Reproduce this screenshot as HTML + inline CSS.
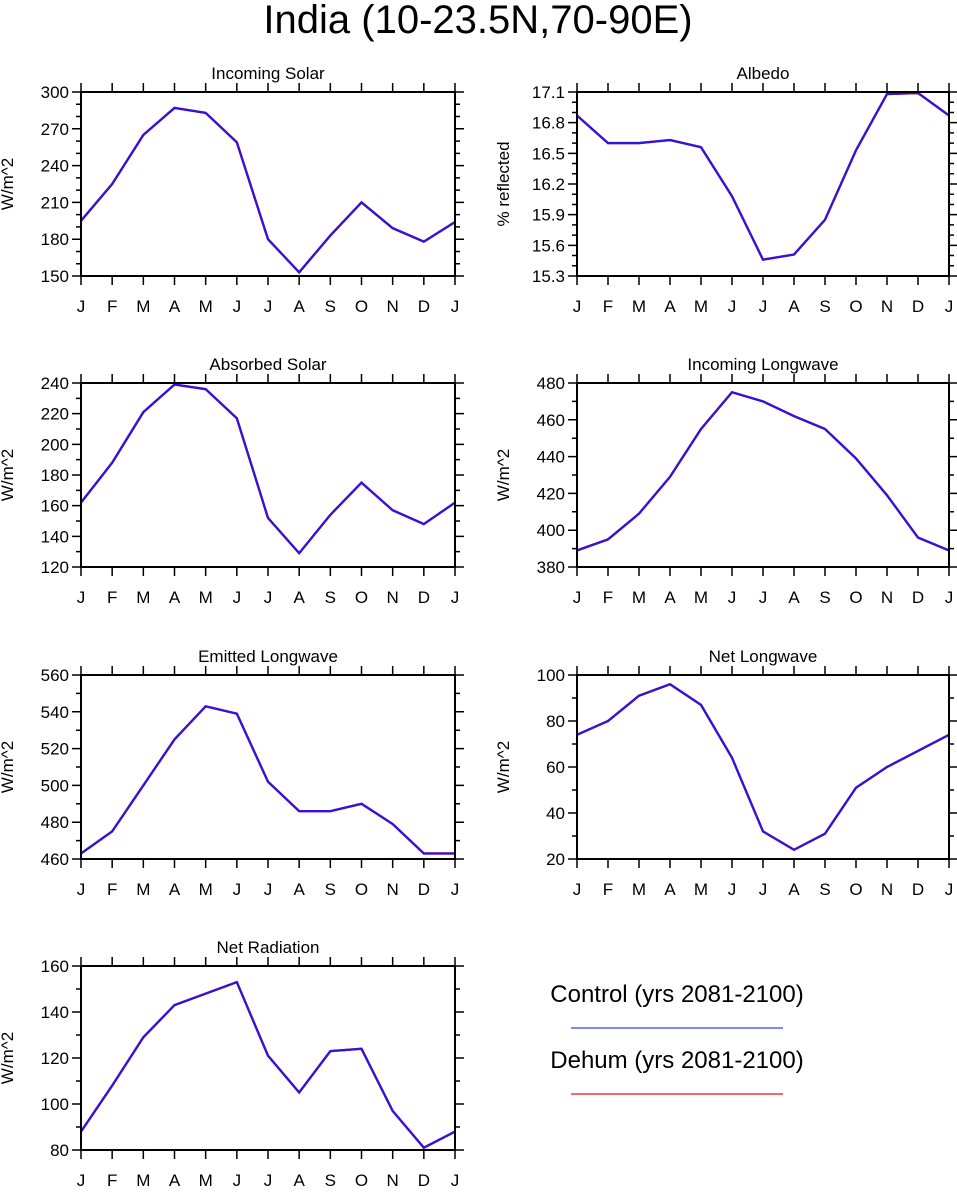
<!DOCTYPE html>
<html><head><meta charset="utf-8"><style>
body{margin:0;background:#fff}
svg text{font-family:"Liberation Sans",Arial,sans-serif;fill:#000}
</style></head><body>
<svg id="s" width="957" height="1187" xmlns="http://www.w3.org/2000/svg">
<text x="478" y="33" font-size="40" text-anchor="middle">India (10-23.5N,70-90E)</text>
<g>
<text x="677" y="1002" font-size="24" text-anchor="middle">Control (yrs 2081-2100)</text>
<line x1="571" y1="1028" x2="783" y2="1028" stroke="#3344ee" stroke-width="1.3"/>
<text x="677" y="1068" font-size="24" text-anchor="middle">Dehum (yrs 2081-2100)</text>
<line x1="571" y1="1094" x2="783" y2="1094" stroke="#ee1111" stroke-width="1.3"/>
</g>
</svg>
<script>
const months=["J","F","M","A","M","J","J","A","S","O","N","D","J"];
const incomingSolar=[195,225,265,287,283,259,180,153,183,210,189,178,194];
const albedo=[16.87,16.60,16.60,16.63,16.56,16.08,15.46,15.51,15.85,16.53,17.08,17.09,16.87];
const absorbedSolar=[162,188,221,239,236,217,152,129,154,175,157,148,162];
const incomingLW=[389,395,409,429,455,475,470,462,455,439,419,396,389];
const emittedLW=[463,475,500,525,543,539,502,486,486,490,479,463,463];
const netLW=[74,80,91,96,87,64,32,24,31,51,60,67,74];
const netRad=[88,108,129,143,148,153,121,105,123,124,97,81,88];
const incomingSolarTicks=[150,180,210,240,270,300];
const albedoTicks=["15.3","15.6","15.9","16.2","16.5","16.8","17.1"];
const absorbedTicks=[120,140,160,180,200,220,240];
const incomingLWTicks=[380,400,420,440,460,480];
const emittedLWTicks=[460,480,500,520,540,560];
const netLWTicks=[20,40,60,80,100];
const netRadTicks=[80,100,120,140,160];
const NS="http://www.w3.org/2000/svg";
const svg=document.getElementById('s');
function mk(t,a,p){const e=document.createElementNS(NS,t);for(const k in a)e.setAttribute(k,a[k]);(p||svg).appendChild(e);return e;}
function panel(name,title,ytitle,data,ticks,minorN,x0,x1,y0,y1){
  const g=mk('g',{});
  
  
  const tv=ticks.map(Number);const lo=tv[0],hi=tv[tv.length-1];
  const X=i=>x0+(x1-x0)*i/(months.length-1);
  const Y=v=>y1-(y1-y0)*(v-lo)/(hi-lo);
  const t=mk('text',{x:(x0+x1)/2,y:y0-13,'font-size':17,'text-anchor':'middle'},g);t.textContent=title;
  
  const yt=mk('text',{x:0,y:0,'font-size':17,'text-anchor':'middle',transform:`translate(${x0-68},${(y0+y1)/2}) rotate(-90)`},g);yt.textContent=ytitle;
  
  let tk='';
  months.forEach((m,i)=>{const x=X(i);tk+=`M${x},${y1}v9M${x},${y0}v-9`;
    const l=mk('text',{x:x,y:y1+36,'font-size':17,'text-anchor':'middle'},g);l.textContent=m;
    });
  const step=(hi-lo)/(tv.length-1);
  ticks.forEach((v,i)=>{const y=Y(tv[i]);tk+=`M${x0},${y}h-9M${x1},${y}h9`;
    const l=mk('text',{x:x0-12,y:y+6,'font-size':17,'text-anchor':'end'},g);l.textContent=String(v);
    
    if(i<tv.length-1)for(let k=1;k<=minorN;k++){const yy=Y(tv[i]+step*k/(minorN+1));tk+=`M${x0},${yy}h-5M${x1},${yy}h5`;}});
  const tp=mk('path',{d:tk,stroke:'#000','stroke-width':1.5,fill:'none'},g);
  
  const d=data.map((v,i)=>(i?'L':'M')+X(i)+','+Y(v)).join('');
  const r=mk('path',{d:d,stroke:'#ee1111','stroke-width':2.4,fill:'none'},g);
  
  const b=mk('path',{d:d,stroke:'#2a14e6','stroke-width':2.2,fill:'none'},g);
  
  const fr=mk('rect',{x:x0,y:y0,width:x1-x0,height:y1-y0,fill:'none',stroke:'#000','stroke-width':2},g);
  
}
const L=[81,455],R=[577,949];
panel('incoming-solar','Incoming Solar','W/m^2',incomingSolar,incomingSolarTicks,2,L[0],L[1],92,276);
panel('albedo','Albedo','% reflected',albedo,albedoTicks,2,R[0],R[1],92,276);
panel('absorbed-solar','Absorbed Solar','W/m^2',absorbedSolar,absorbedTicks,1,L[0],L[1],383,567);
panel('incoming-longwave','Incoming Longwave','W/m^2',incomingLW,incomingLWTicks,1,R[0],R[1],383,567);
panel('emitted-longwave','Emitted Longwave','W/m^2',emittedLW,emittedLWTicks,1,L[0],L[1],675,859);
panel('net-longwave','Net Longwave','W/m^2',netLW,netLWTicks,1,R[0],R[1],675,859);
panel('net-radiation','Net Radiation','W/m^2',netRad,netRadTicks,1,L[0],L[1],966,1150);
</script>
</body></html>
